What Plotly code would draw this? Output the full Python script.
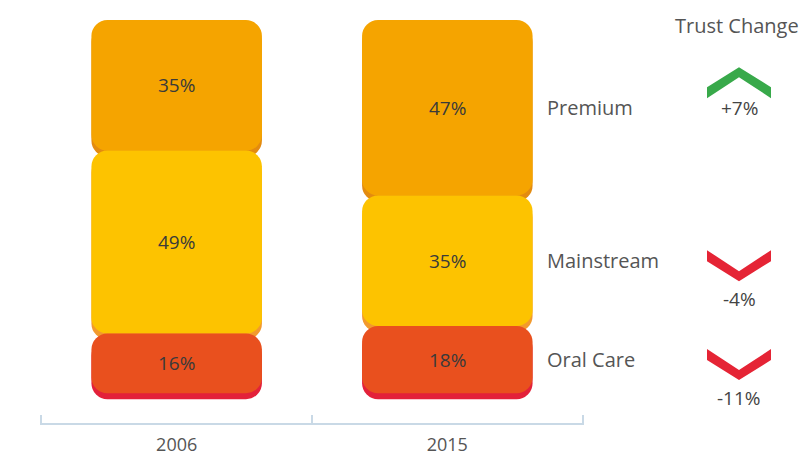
import plotly.graph_objects as go

# ---- data -------------------------------------------------------------
years = ["2006", "2015"]
segments = ["Oral Care", "Mainstream", "Premium"]      # stacked bottom -> top
share_2006 = [16, 49, 35]
share_2015 = [18, 35, 47]
trust_change = [-11, -4, 7]                             # per segment, 2006 -> 2015

# ---- style ------------------------------------------------------------
FACE = ["#E9501E", "#FDC300", "#F5A400"]
SHADOW = ["#E3213A", "#F29A2E", "#E38B10"]
UP_COLOR = "#38A94A"
DOWN_COLOR = "#E52435"
AXIS_COLOR = "#C9D9E6"
FONT = "Open Sans"

W, H = 805, 459
MARGIN = dict(l=40, r=221, t=20, b=36)
Y_RANGE = [-8, 100]
PLOT_W = W - MARGIN["l"] - MARGIN["r"]
PLOT_H = H - MARGIN["t"] - MARGIN["b"]
PX_PER_UNIT = PLOT_H / (Y_RANGE[1] - Y_RANGE[0])
SHADOW_DROP = 6 / PX_PER_UNIT      # darker lip under every block
RADIUS = 16
BAR_W = 0.63
TREND_X = (739 - MARGIN["l"]) / PLOT_W   # paper x of the trust-change column

shares = [share_2006, share_2015]
cat_pos = list(range(len(years)))

# stack limits for every segment, per year
bottoms, tops = [], []
for i in range(len(segments)):
    bottoms.append([sum(s[:i]) for s in shares])
    tops.append([sum(s[:i + 1]) for s in shares])

fig = go.Figure()


def block(bottom, top, color):
    fig.add_bar(x=years, base=bottom, y=[t - b for b, t in zip(bottom, top)],
                width=BAR_W, hoverinfo="skip",
                marker=dict(color=color, cornerradius=RADIUS, line=dict(width=0)))


# top segment first so each lower block covers the lip above it
for i in reversed(range(len(segments))):
    block([b - SHADOW_DROP for b in bottoms[i]],
          [t - SHADOW_DROP for t in tops[i]], SHADOW[i])
    block(bottoms[i], tops[i], FACE[i])

annotations = []
shapes = []

# value labels inside the blocks
for i in range(len(segments)):
    for k in cat_pos:
        annotations.append(dict(
            x=k, y=(bottoms[i][k] + tops[i][k]) / 2, xref="x", yref="y",
            xanchor="center", yanchor="middle",
            text=f"{shares[k][i]}%", showarrow=False,
            font=dict(family=FONT, size=19, color="#3A3A3A")))

# segment names beside the 2015 column, plus trust change chevrons
CHEVRON = [(-32, -4.5), (0, 15.5), (32, -4.5), (32, -15.5), (0, 5.5), (-32, -15.5)]
for i, name in enumerate(segments):
    y_mid = (bottoms[i][1] + tops[i][1]) / 2
    annotations.append(dict(
        x=(545 - MARGIN["l"]) / PLOT_W, y=y_mid, xref="paper", yref="y",
        xanchor="left", yanchor="middle", text=name, showarrow=False,
        font=dict(family=FONT, size=20, color="#555555")))

    change = trust_change[i]
    up = change > 0
    sign = 1 if up else -1
    dy = 25 if up else -5
    path = "M" + " L".join(f"{x},{sign * y + dy}" for x, y in CHEVRON) + " Z"
    shapes.append(dict(
        type="path", xref="paper", yref="y", xsizemode="pixel",
        ysizemode="pixel", xanchor=TREND_X, yanchor=y_mid, path=path,
        fillcolor=UP_COLOR if up else DOWN_COLOR, line=dict(width=0),
        layer="above"))
    annotations.append(dict(
        x=TREND_X, y=y_mid, xref="paper", yref="y",
        xanchor="center", yanchor="middle",
        yshift=0 if up else -38, text=f"{change:+d}%", showarrow=False,
        font=dict(family=FONT, size=19, color="#444444")))

annotations.append(dict(
    x=(737 - MARGIN["l"]) / PLOT_W, y=1 + (MARGIN["t"] - 25) / PLOT_H,
    xref="paper", yref="paper", xanchor="center", yanchor="middle",
    text="Trust Change", showarrow=False,
    font=dict(family=FONT, size=20, color="#555555")))

fig.update_layout(
    width=W, height=H, margin=MARGIN,
    barmode="overlay", showlegend=False,
    paper_bgcolor="white", plot_bgcolor="white",
    annotations=annotations, shapes=shapes,
    xaxis=dict(type="category", range=[-0.505, 1.505], showline=True,
               linecolor=AXIS_COLOR, linewidth=1.5, ticks="inside",
               tickson="boundaries", ticklen=8, tickcolor=AXIS_COLOR,
               tickwidth=1.5, showgrid=False, ticklabelstandoff=5,
               automargin=False, zeroline=False,
               tickfont=dict(family=FONT, size=18, color="#555555")),
    yaxis=dict(range=Y_RANGE, visible=False, showgrid=False, zeroline=False,
               automargin=False),
)

fig.write_html("out.html")
